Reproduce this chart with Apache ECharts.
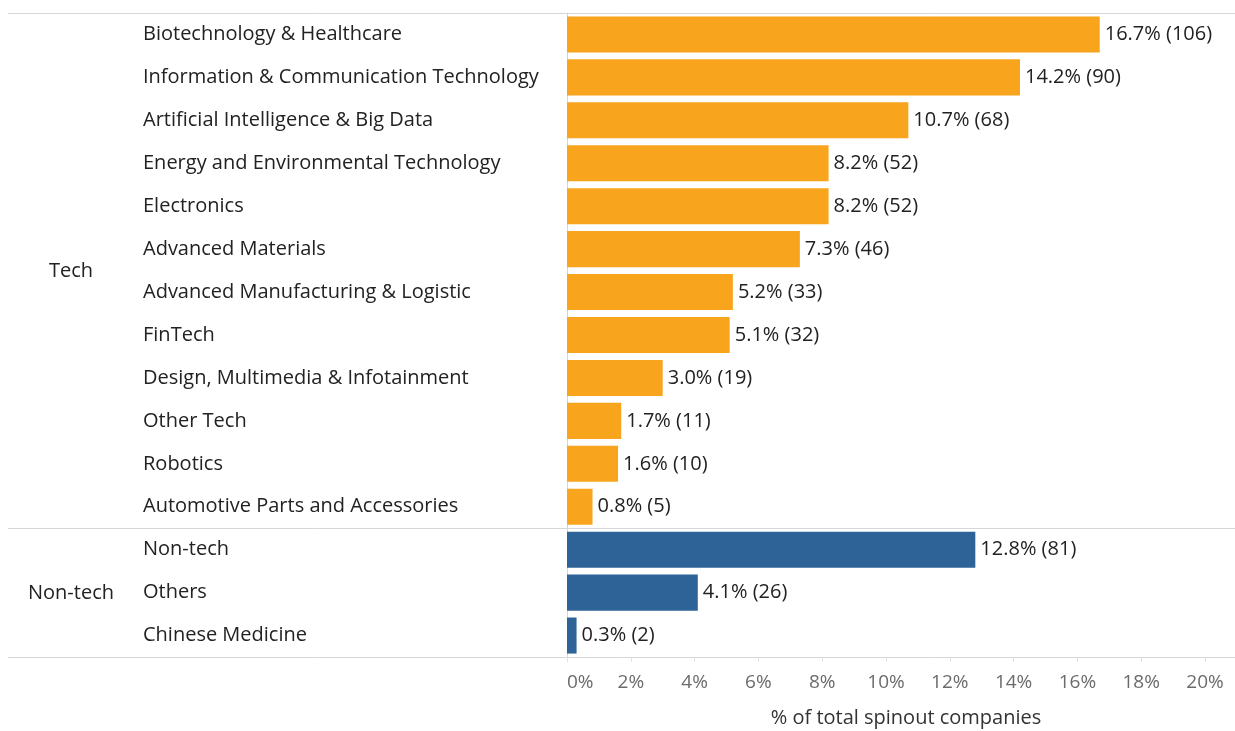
<!DOCTYPE html>
<html>
<head>
<meta charset="utf-8">
<script src="https://cdn.jsdelivr.net/npm/echarts@6/dist/echarts.min.js"></script>
<style>
  html, body { margin: 0; padding: 0; background: #fff; }
  #chart { width: 1235px; height: 731px; }
</style>
</head>
<body>
<div id="chart"></div>
<script>
  // data
  const categories = [
    'Biotechnology & Healthcare', 'Information & Communication Technology',
    'Artificial Intelligence & Big Data', 'Energy and Environmental Technology',
    'Electronics', 'Advanced Materials', 'Advanced Manufacturing & Logistic',
    'FinTech', 'Design, Multimedia & Infotainment', 'Other Tech', 'Robotics',
    'Automotive Parts and Accessories',
    'Non-tech', 'Others', 'Chinese Medicine'
  ];
  const percents = [16.7, 14.2, 10.7, 8.2, 8.2, 7.3, 5.2, 5.1, 3.0, 1.7, 1.6, 0.8, 12.8, 4.1, 0.3];
  const counts = [106, 90, 68, 52, 52, 46, 33, 32, 19, 11, 10, 5, 81, 26, 2];
  const groups = ['Tech', 'Tech', 'Tech', 'Tech', 'Tech', 'Tech', 'Tech', 'Tech', 'Tech', 'Tech', 'Tech', 'Tech',
                  'Non-tech', 'Non-tech', 'Non-tech'];
  const groupNames = ['Tech', 'Non-tech'];
  const xTicks = [0, 2, 4, 6, 8, 10, 12, 14, 16, 18, 20];

  const groupColors = { 'Tech': '#F8A51D', 'Non-tech': '#2D6396' };
  const font = '"Open Sans", "Noto Sans", sans-serif';
  const lineColor = '#d6d6d6';

  const chart = echarts.init(document.getElementById('chart'));

  chart.setOption({
    animation: false,
    grid: { left: 567, right: 30, top: 13, bottom: 74, outerBoundsMode: 'none' },
    xAxis: {
      type: 'value',
      min: xTicks[0],
      max: xTicks[xTicks.length - 1],
      interval: 2,
      name: '% of total spinout companies',
      nameLocation: 'middle',
      nameGap: 51,
      nameTextStyle: { color: '#333', fontSize: 20, fontFamily: font, padding: [0, 0, 0, 40] },
      axisLine: { show: false },
      axisTick: { show: true, length: 5, lineStyle: { color: '#e2e2e2' } },
      splitLine: { show: false },
      axisLabel: {
        formatter: '{value}%',
        color: '#6b6b6b',
        fontSize: 19,
        fontFamily: font,
        margin: 16,
        alignMinLabel: 'left'
      }
    },
    yAxis: {
      type: 'category',
      inverse: true,
      data: categories,
      axisLine: { show: true, lineStyle: { color: lineColor } },
      axisTick: { show: false },
      axisLabel: {
        align: 'left',
        margin: 424,
        color: '#222',
        fontSize: 20,
        fontFamily: font
      }
    },
    series: [{
      type: 'bar',
      barCategoryGap: '16%',
      data: percents.map((v, i) => ({ value: v, itemStyle: { color: groupColors[groups[i]] } })),
      label: {
        show: true,
        position: 'right',
        distance: 5,
        color: '#222',
        fontSize: 20,
        fontFamily: font,
        formatter: p => p.value.toFixed(1) + '% (' + counts[p.dataIndex] + ')'
      }
    }]
  });

  // group labels and separator lines, placed from the category axis
  function drawGroups() {
    const elements = [];
    const rowTop = i => chart.convertToPixel({ yAxisIndex: 0 }, i) - 0.5 * (chart.convertToPixel({ yAxisIndex: 0 }, 1) - chart.convertToPixel({ yAxisIndex: 0 }, 0));
    const boundaries = [0];
    groupNames.forEach(g => {
      const idx = groups.map((x, i) => x === g ? i : -1).filter(i => i >= 0);
      const first = idx[0], last = idx[idx.length - 1];
      const y0 = chart.convertToPixel({ yAxisIndex: 0 }, first);
      const y1 = chart.convertToPixel({ yAxisIndex: 0 }, last);
      elements.push({
        type: 'text',
        x: 71, y: (y0 + y1) / 2 + 1,
        style: { text: g, fill: '#222', font: '20px ' + font, align: 'center', verticalAlign: 'middle' }
      });
      boundaries.push(last + 1);
    });
    boundaries.forEach(b => {
      const y = Math.round(rowTop(b)) + 0.5;
      elements.push({
        type: 'line',
        shape: { x1: 8, y1: y, x2: 1235, y2: y },
        style: { stroke: lineColor, lineWidth: 1 }
      });
    });
    chart.setOption({ graphic: { elements: elements } });
  }
  drawGroups();
</script>
</body>
</html>
